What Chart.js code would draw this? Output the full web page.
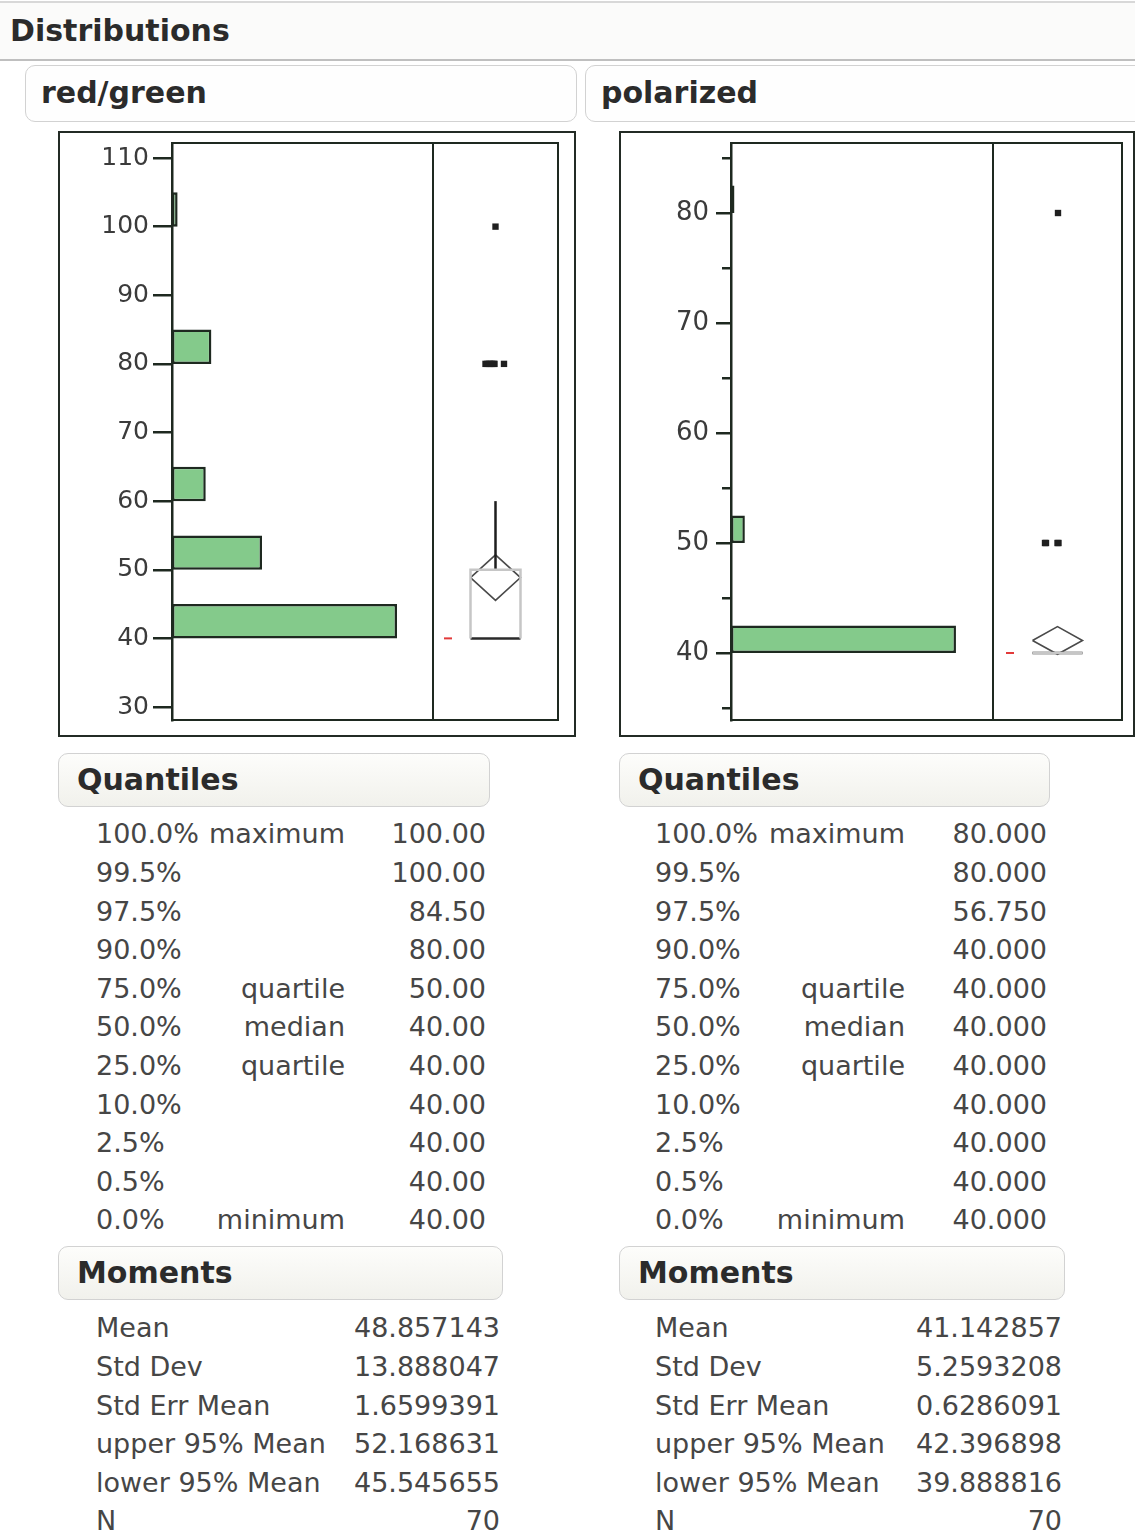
<!DOCTYPE html>
<html>
<head>
<meta charset="utf-8">
<title>Distributions</title>
<script src="https://cdn.jsdelivr.net/npm/chart.js@4.4.1/dist/chart.umd.min.js"></script>
<style>
    body { margin: 0; background: #fff; font-family: "DejaVu Sans", sans-serif; color: #464646; }
    #page { position: relative; width: 1135px; height: 1537px; overflow: hidden; }
    .abs { position: absolute; }
    .band { left: 0; top: 1px; width: 1135px; height: 60px; box-sizing: border-box; background: #fbfbfa;
            border-top: 2px solid #d8d8d8; border-bottom: 2px solid #bfbfbf; }
    .hbox { box-sizing: border-box; border: 1.5px solid #d2d2d2; border-radius: 10px; white-space: nowrap; }
    .bold { font-weight: bold; font-size: 30px; color: #2b2b2b; }
    .title { background: #fefefe; }
    .section { background: linear-gradient(#fdfdfb, #f1f1ec); }
    .frame { box-sizing: border-box; border: 2px solid #232b25; }
    .cell { font-size: 27px; line-height: 38.6px; height: 38.6px; white-space: nowrap; }
    canvas { position: absolute; }
</style>
</head>
<body>
<div id="page"></div>
<script>
// ---- red/green ----
const rgBinStart = [40, 50, 60, 80, 100];
const rgCounts = [40, 16, 6, 7, 1];
const rgBinWidth = 5;
const rgTicks = [30, 40, 50, 60, 70, 80, 90, 100, 110];
const rgTickLabels = [30, 40, 50, 60, 70, 80, 90, 100, 110];
const rgQuantiles = [100, 100, 84.5, 80, 50, 40, 40, 40, 40, 40, 40];
const rgMoments = [48.857143, 13.888047, 1.6599391, 52.168631, 45.545655, 70];
const rgShortestHalf = [40, 40];
const rgJitter = [-0.2, -0.16, -0.12, -0.08, -0.04, -0.02, 0.17, 0];

// ---- polarized ----
const polBinStart = [40, 50, 80];
const polCounts = [65, 4, 1];
const polBinWidth = 2.5;
const polTicks = [35, 40, 45, 50, 55, 60, 65, 70, 75, 80, 85];
const polTickLabels = [40, 50, 60, 70, 80];
const polQuantiles = [80, 80, 56.75, 40, 40, 40, 40, 40, 40, 40, 40];
const polMoments = [41.142857, 5.2593208, 0.6286091, 42.396898, 39.888816, 70];
const polShortestHalf = [40, 40];
const polJitter = [-0.25, -0.23, 0.0, 0.02, 0.01];

// ---- report labels ----
const quantileLevels = ['100.0%', '99.5%', '97.5%', '90.0%', '75.0%', '50.0%', '25.0%', '10.0%', '2.5%', '0.5%', '0.0%'];
const quantileNames = ['maximum', '', '', '', 'quartile', 'median', 'quartile', '', '', '', 'minimum'];
const momentNames = ['Mean', 'Std Dev', 'Std Err Mean', 'upper 95% Mean', 'lower 95% Mean', 'N'];

const FRAME = '#1e2920';
const BAR_FILL = '#84ca8b';
const TICK_TEXT = '#3b3b3b';
const page = document.getElementById('page');

function addDiv(cls, style, text) {
    const d = document.createElement('div');
    d.className = 'abs ' + cls;
    Object.assign(d.style, style);
    if (text !== undefined) d.textContent = text;
    page.appendChild(d);
    return d;
}

function addCanvas(left, top, w, h) {
    const c = document.createElement('canvas');
    c.width = w; c.height = h;
    c.style.left = left + 'px'; c.style.top = top + 'px';
    page.appendChild(c);
    return c;
}

// stroke the plot area like JMP does
const frameBox = {
    id: 'frameBox',
    afterDraw(chart) {
        const a = chart.chartArea, ctx = chart.ctx;
        ctx.save();
        ctx.strokeStyle = FRAME;
        ctx.lineWidth = 2;
        ctx.strokeRect(a.left, a.top, a.right - a.left, a.bottom - a.top);
        ctx.restore();
    }
};

const panels = [
    {
        name: 'red/green', frameLeft: 58, frameW: 518, titleLeft: 25, titleW: 552,
        bins: rgBinStart, counts: rgCounts, binWidth: rgBinWidth, ticks: rgTicks, labels: rgTickLabels,
        yMin: 28.106, yMax: 112.186, xMax: 46.4, histRight: 433, axisW: 112, boxW: 125,
        fontSize: 25, tickLen: 19, tickPad: 4, minorSkip: 0,
        quantiles: rgQuantiles, qDigits: 2, moments: rgMoments, shortHalf: rgShortestHalf, jitter: rgJitter,
        qBox: [58, 432], mBox: [58, 445], pctX: 96, nameR: 345, valR: 486, momValR: 500
    },
    {
        name: 'polarized', frameLeft: 619, frameW: 516, titleLeft: 585, titleW: 560,
        bins: polBinStart, counts: polCounts, binWidth: polBinWidth, ticks: polTicks, labels: polTickLabels,
        yMin: 33.909, yMax: 86.364, xMax: 75.7, histRight: 993, axisW: 110, boxW: 129,
        fontSize: 26, tickLen: 15, tickPad: 7, minorSkip: 6,
        quantiles: polQuantiles, qDigits: 3, moments: polMoments, shortHalf: polShortestHalf, jitter: polJitter,
        qBox: [619, 431], mBox: [619, 446], pctX: 655, nameR: 905, valR: 1047, momValR: 1062
    }
];

// header band
addDiv('band', {});
addDiv('bold', { left: '10px', top: '1px', height: '60px', lineHeight: '60px' }, 'Distributions');

function boxStats(p) {
    const values = [];
    p.bins.forEach((b, i) => { for (let k = 0; k < p.counts[i]; k++) values.push(b); });
    const q3 = p.quantiles[4], median = p.quantiles[5], q1 = p.quantiles[6];
    const fence = q3 + 1.5 * (q3 - q1);
    const inside = values.filter(v => v <= fence);
    return {
        q1, q3, median,
        whiskerHi: Math.max(...inside),
        mean: p.moments[0], upper: p.moments[3], lower: p.moments[4],
        outliers: values.filter(v => v > fence)
    };
}

function lineSet(points, color, width) {
    return { data: points, showLine: true, borderColor: color, borderWidth: width,
             pointRadius: 0, fill: false, tension: 0 };
}

function isMajor(p, ctx) {
    return !ctx.tick || p.labels.includes(ctx.tick.value);
}

panels.forEach(p => {
    // title box
    addDiv('hbox title bold', { left: p.titleLeft + 'px', top: '65px', width: p.titleW + 'px',
        height: '57px', lineHeight: '54px', paddingLeft: '15px' }, p.name);

    // outer plot frame
    addDiv('frame', { left: p.frameLeft + 'px', top: '131px', width: p.frameW + 'px', height: '606px' });

    const canvasTop = 133, canvasH = 602, padTop = 10, padBottom = 15;
    const histLeft = p.frameLeft + 2;

    // histogram
    const hc = addCanvas(histLeft, canvasTop, p.histRight - histLeft, canvasH);
    new Chart(hc, {
        type: 'bar',
        data: {
            datasets: [{
                data: p.bins.map((b, i) => ({ x: p.counts[i], y: b + p.binWidth / 2 })),
                backgroundColor: BAR_FILL,
                borderColor: FRAME,
                borderWidth: 2.5,
                borderSkipped: false,
                categoryPercentage: 1,
                barPercentage: p.binWidth / (p.ticks[1] - p.ticks[0])
            }]
        },
        options: {
            indexAxis: 'y',
            responsive: false,
            animation: false,
            events: [],
            layout: { autoPadding: false, padding: { top: padTop, bottom: padBottom, left: 0, right: 0 } },
            plugins: { legend: { display: false }, tooltip: { enabled: false } },
            scales: {
                x: { type: 'linear', min: 0, max: p.xMax, display: false },
                y: {
                    type: 'linear', min: p.yMin, max: p.yMax, offset: false,
                    afterBuildTicks: s => { s.ticks = p.ticks.map(v => ({ value: v })); },
                    afterFit: s => { s.width = p.axisW; s.paddingTop = 0; s.paddingBottom = 0; },
                    border: { display: true, color: FRAME, width: 2.5 },
                    grid: {
                        offset: false,
                        drawOnChartArea: false, drawTicks: true, tickLength: p.tickLen,
                        color: FRAME, lineWidth: 2.5, tickWidth: 2.5,
                        tickBorderDash: [p.tickLen, 200],
                        tickBorderDashOffset: ctx => (isMajor(p, ctx) ? 0 : -p.minorSkip)
                    },
                    ticks: {
                        padding: p.tickPad, color: TICK_TEXT,
                        font: { family: 'DejaVu Sans', size: p.fontSize },
                        callback: v => (p.labels.includes(v) ? String(v) : '')
                    }
                }
            }
        },
        plugins: [frameBox]
    });

    // outlier box plot + means diamond
    const s = boxStats(p);
    const hw = 0.5;
    const half = p.boxW / 100;
    const bc = addCanvas(p.histRight, canvasTop, p.boxW + 8, canvasH);
    new Chart(bc, {
        type: 'scatter',
        data: {
            datasets: [
                lineSet([{ x: -hw, y: s.q1 }, { x: -hw, y: s.q3 }, { x: hw, y: s.q3 }, { x: hw, y: s.q1 }], '#c6c6c6', 2.5),
                lineSet([{ x: -hw, y: s.median }, { x: hw, y: s.median }], '#2a2a2a', 2.5),
                lineSet([{ x: 0, y: s.q3 }, { x: 0, y: s.whiskerHi }], '#1e1e1e', 2.5),
                lineSet([{ x: -hw, y: s.mean }, { x: 0, y: s.upper }, { x: hw, y: s.mean },
                         { x: 0, y: s.lower }, { x: -hw, y: s.mean }], '#4a4a4a', 1.6),
                lineSet([{ x: -1.03, y: p.shortHalf[0] }, { x: -0.87, y: p.shortHalf[1] }], '#e23a3a', 2),
                {
                    data: s.outliers.map((v, i) => ({ x: p.jitter[i], y: v })),
                    showLine: false, pointStyle: 'rect', pointRadius: 4.5,
                    backgroundColor: '#1f1f1f', borderWidth: 0
                }
            ]
        },
        options: {
            responsive: false,
            animation: false,
            events: [],
            layout: { autoPadding: false, padding: { top: padTop, bottom: padBottom, left: 0, right: 8 } },
            plugins: { legend: { display: false }, tooltip: { enabled: false } },
            scales: {
                x: { type: 'linear', min: -half, max: half, display: false },
                y: { type: 'linear', min: p.yMin, max: p.yMax, display: false }
            }
        },
        plugins: [frameBox]
    });

    // Quantiles report
    addDiv('hbox section bold', { left: p.qBox[0] + 'px', top: '753px', width: p.qBox[1] + 'px',
        height: '54px', lineHeight: '51px', paddingLeft: '18px' }, 'Quantiles');
    quantileLevels.forEach((lvl, i) => {
        const top = (815.3 + i * 38.6) + 'px';
        addDiv('cell', { left: p.pctX + 'px', top }, lvl);
        if (quantileNames[i]) addDiv('cell', { right: (1135 - p.nameR) + 'px', top }, quantileNames[i]);
        addDiv('cell', { right: (1135 - p.valR) + 'px', top }, p.quantiles[i].toFixed(p.qDigits));
    });

    // Moments report
    addDiv('hbox section bold', { left: p.mBox[0] + 'px', top: '1246px', width: p.mBox[1] + 'px',
        height: '54px', lineHeight: '51px', paddingLeft: '18px' }, 'Moments');
    momentNames.forEach((m, i) => {
        const top = (1309.3 + i * 38.6) + 'px';
        addDiv('cell', { left: p.pctX + 'px', top }, m);
        addDiv('cell', { right: (1135 - p.momValR) + 'px', top }, String(p.moments[i]));
    });
});
</script>
</body>
</html>
